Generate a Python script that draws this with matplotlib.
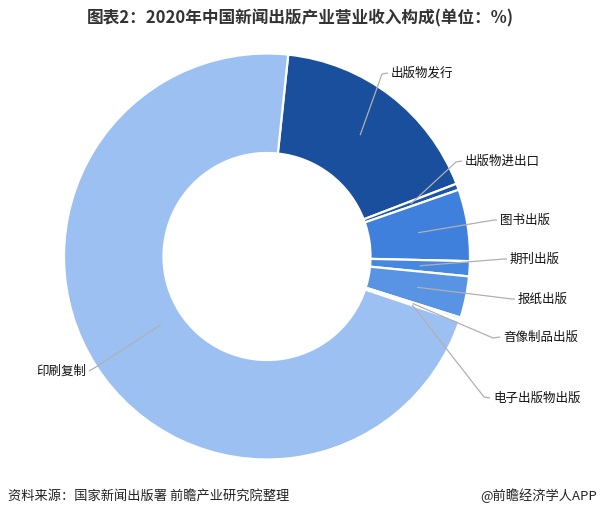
import matplotlib
matplotlib.use("Agg")
import matplotlib.pyplot as plt
import numpy as np

plt.rcParams["font.family"] = ["Noto Sans CJK SC", "DejaVu Sans"]

# 2020 revenue composition of the press & publication industry (%)
categories = ["出版物发行", "出版物进出口", "图书出版", "期刊出版", "报纸出版",
              "音像制品出版", "电子出版物出版", "印刷复制"]
shares = [17.5, 0.5, 5.7, 1.2, 3.3, 0.2, 0.1, 71.5]
colors = ["#1a4f9d", "#1d55a8", "#3f80dc", "#4688e0", "#5894e3",
          "#7aa9ea", "#8db7ee", "#9cc0f2"]

title = "图表2：2020年中国新闻出版产业营业收入构成(单位：%)"
source = "资料来源：国家新闻出版署 前瞻产业研究院整理"
credit = "@前瞻经济学人APP"

W, H = 600, 518
fig = plt.figure(figsize=(W / 100, H / 100), dpi=100)
ax = fig.add_axes([0, 0, 1, 1])


def Y(y):
    """Convert a top-down pixel row into the axes' bottom-up coordinate."""
    return H - y


cx, cy = 267, Y(256.5)
R_out, R_in = 203, 103.5

wedges, _ = ax.pie(
    shares, colors=colors, startangle=84, counterclock=False,
    center=(cx, cy), radius=R_out, frame=True,
    wedgeprops=dict(width=R_out - R_in, edgecolor="white", linewidth=1.6),
)
ax.set_xlim(0, W)
ax.set_ylim(0, H)
ax.set_aspect("equal")
ax.axis("off")

# label placement: text anchor, elbow of the leader line, alignment,
# radius at which the leader line starts inside the ring
layout = {
    "出版物发行": ((391, 73), (382, 74), "left", 153),
    "出版物进出口": ((465, 161), (456, 162), "left", 153),
    "图书出版": ((500, 220), (494, 220), "left", 153),
    "期刊出版": ((510, 259), (504, 259), "left", 153),
    "报纸出版": ((518, 299), (512, 299), "left", 153),
    "音像制品出版": ((503, 337), (493, 338), "left", 153),
    "电子出版物出版": ((493, 398), (484, 397), "left", 153),
    "印刷复制": ((86, 371), (96, 367), "right", 126),
}

for w, name in zip(wedges, categories):
    (tx, ty), (ex, ey), ha, r_start = layout[name]
    mid = np.deg2rad((w.theta1 + w.theta2) / 2)
    sx, sy = cx + r_start * np.cos(mid), cy + r_start * np.sin(mid)
    endx = tx - 3 if ha == "left" else tx + 3
    ax.plot([sx, ex, endx], [sy, Y(ey), Y(ty)], color="#b0b0b0", lw=0.9,
            solid_capstyle="butt", zorder=3)
    ax.text(tx, Y(ty), name, ha=ha, va="center", fontsize=9, color="#111111",
            zorder=4)

fig.text(0.5, 1 - 18 / H, title, ha="center", va="center", fontsize=12,
         fontweight="bold", color="#333333")
fig.text(8 / W, 1 - 496 / H, source, ha="left", va="center", fontsize=9.5,
         color="#222222")
fig.text(597 / W, 1 - 496 / H, credit, ha="right", va="center", fontsize=9.5,
         color="#222222")

fig.savefig("out.png", dpi=100, facecolor="white")
